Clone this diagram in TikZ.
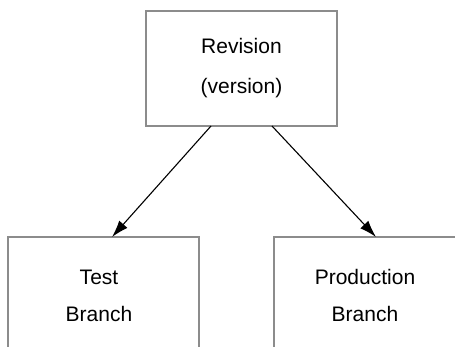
\documentclass[tikz,border=0pt]{standalone}
\usepackage{fontspec}
\setmainfont{Liberation Sans}
\usetikzlibrary{arrows.meta}
\tikzset{
  box/.style={draw=black!45, line width=1.4pt, minimum width=191pt, minimum height=115pt,
              inner sep=0pt, outer sep=0pt},
  label/.style={align=center, inner sep=0pt},
  link/.style={line width=1.1pt, -{Latex[length=17pt,width=11pt]}}
}
\begin{document}
\begin{tikzpicture}[x=1pt,y=1pt]
  \useasboundingbox (0,0) rectangle (455,-346);
  \clip (0,0) rectangle (455,-346);
  % boxes
  \node[box] (rev)  at (241.5,-68.5) {};
  \node[box] (test) at (103.5,-294.5) {};
  \node[box] (prod) at (369.5,-294.5) {};
  % texts
  \node[label, font=\fontsize{21}{40}\selectfont] (revt) at (241.5,-68.5) {Revision\\(version)};
  \node[label, font=\fontsize{21}{37}\selectfont] (testt) at (99,-296) {Test\\Branch};
  \node[label, font=\fontsize{21}{37}\selectfont] (prodt) at (365,-295) {Production\\Branch};
  % connectors
  \draw[link] ([xshift=-30.5pt]rev.south) -- ([xshift=8.5pt]test.north);
  \draw[link] ([xshift=30.5pt]rev.south) -- ([xshift=6.5pt]prod.north);
\end{tikzpicture}
\end{document}
